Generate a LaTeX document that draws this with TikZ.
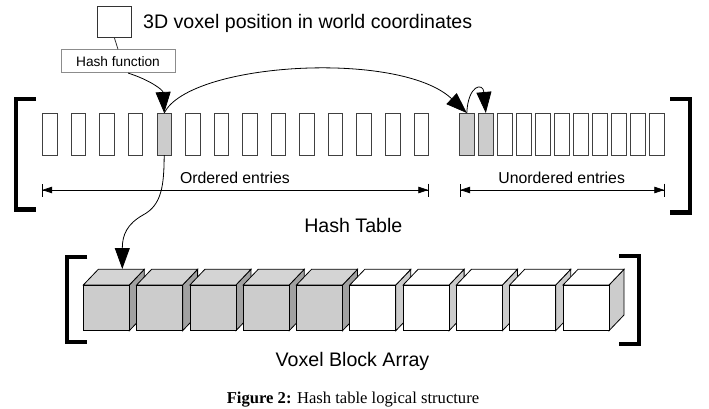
\documentclass[tikz,border=0pt]{standalone}
\usepackage{fontspec}
\setmainfont{Liberation Sans}
\newfontfamily\capfont{Liberation Serif}
\usetikzlibrary{arrows.meta,calc}
\begin{document}
\begin{tikzpicture}[x=1pt,y=-1pt,
  slot/.style={draw=black!75,line width=0.8pt,minimum width=14.5pt,minimum height=42pt,inner sep=0pt,outer sep=0pt},
  uslot/.style={slot,minimum width=15pt},
  brack/.style={line width=4.3pt,line join=miter,line cap=butt},
  big/.style={-{Triangle[length=21pt,width=15pt]},line width=0.8pt},
  dim/.style={{Bar[width=13pt]Triangle[length=10pt,width=6.5pt]}-{Triangle[length=10pt,width=6.5pt]Bar[width=13pt]},line width=0.7pt},
  lbl/.style={font=\fontsize{15.8}{18}\selectfont,inner sep=0pt,anchor=base},
  title/.style={font=\fontsize{19.6}{22}\selectfont,inner sep=0pt,anchor=base},
  cube/.style={line width=0.8pt,draw=black,line join=miter}
]
\useasboundingbox (0,0) rectangle (709,408);
% top: voxel position and hash function
\node[draw=black!80,line width=0.8pt,minimum width=33.3pt,minimum height=31.3pt,inner sep=0pt] (vox) at (114.35,21.65) {};
\node[title,anchor=base west] (voxtxt) at (143,28) {3D voxel position in world coordinates};
\node[draw=black!45,line width=0.8pt,minimum width=114pt,minimum height=23pt,inner sep=0pt,font=\fontsize{13.7}{15}\selectfont] (hf) at (118,61.2) {Hash function};
\draw[line width=0.8pt,black!80] (vox.south) -- (hf.north);
% hash table slots
\foreach \i [evaluate=\i as \f using {int(ifthenelse(\i==4,20,0))}] in {0,...,13}
  \node[slot,fill=black!\f] (o\i) at ({49.95+28.56*\i},134) {};
\foreach \i [evaluate=\i as \f using {int(ifthenelse(\i<2,20,0))}] in {0,...,10}
  \node[uslot,fill=black!\f] (u\i) at ({466.8+19*\i},134) {};
% brackets
\draw[brack] (36,99) -- (16.2,99) -- (16.2,209.5) -- (36,209.5);
\draw[brack] (670,99) -- (690.3,99) -- (690.3,212.5) -- (670,212.5);
\draw[brack] (87.3,257.2) -- (67.2,257.2) -- (67.2,341.7) -- (87.3,341.7);
\draw[brack] (619.3,256.3) -- (639.2,256.3) -- (639.2,344) -- (619.3,344);
% dimension arrows
\coordinate (oL) at (41.5,190);
\coordinate (oR) at (429,190);
\coordinate (uL) at (459.5,190);
\coordinate (uR) at (665,190);
\draw[dim] (oL) -- (oR);
\draw[dim] (uL) -- (uR);
\node[lbl] (ord) at (235,183.3) {Ordered entries};
\node[lbl] (unord) at (561.7,183.3) {Unordered entries};
\node[title] (ht) at (353.3,232.3) {Hash Table};
% voxel blocks
\foreach \i in {0,...,9}{
  \pgfmathsetmacro\x{83.3+53.3*\i}
  \ifnum\i<5
    \def\fr{black!20}\def\tp{black!17}\def\sd{black!37}
  \else
    \def\fr{white}\def\tp{white}\def\sd{black!20}
  \fi
  \filldraw[cube,fill=\sd] ({\x+46},285) -- ({\x+61},269.3) -- ({\x+61},315) -- ({\x+46},330.7) -- cycle;
  \filldraw[cube,fill=\tp] (\x,285) -- ({\x+15},269.3) -- ({\x+61},269.3) -- ({\x+46},285) -- cycle;
  \filldraw[cube,fill=\fr] (\x,285) rectangle ({\x+46},330.7);
}
\coordinate (ctop0) at (122.3,269);
\node[title] (vba) at (352.5,366.7) {Voxel Block Array};
% connectors
\draw[big] ($(hf.south west)!0.588!(hf.south east)$) .. controls (150,80) and (163,90) .. (o4.north);
\draw[big] (o4.north) .. controls (190,62) and (400,50) .. (u0.north);
\draw[big] (u0.north) .. controls (468,85) and (483,82) .. (u1.north);
\draw[big] (o4.south) .. controls (164,185) and (162,205) .. (143,215) .. controls (127,224) and (122.3,235) .. (ctop0);
% caption
\node[inner sep=0pt,anchor=base,font=\capfont\fontsize{16.6}{18}\selectfont] (cap) at (353,403.3) {\textbf{Figure 2:} Hash table logical structure};
\end{tikzpicture}
\end{document}
